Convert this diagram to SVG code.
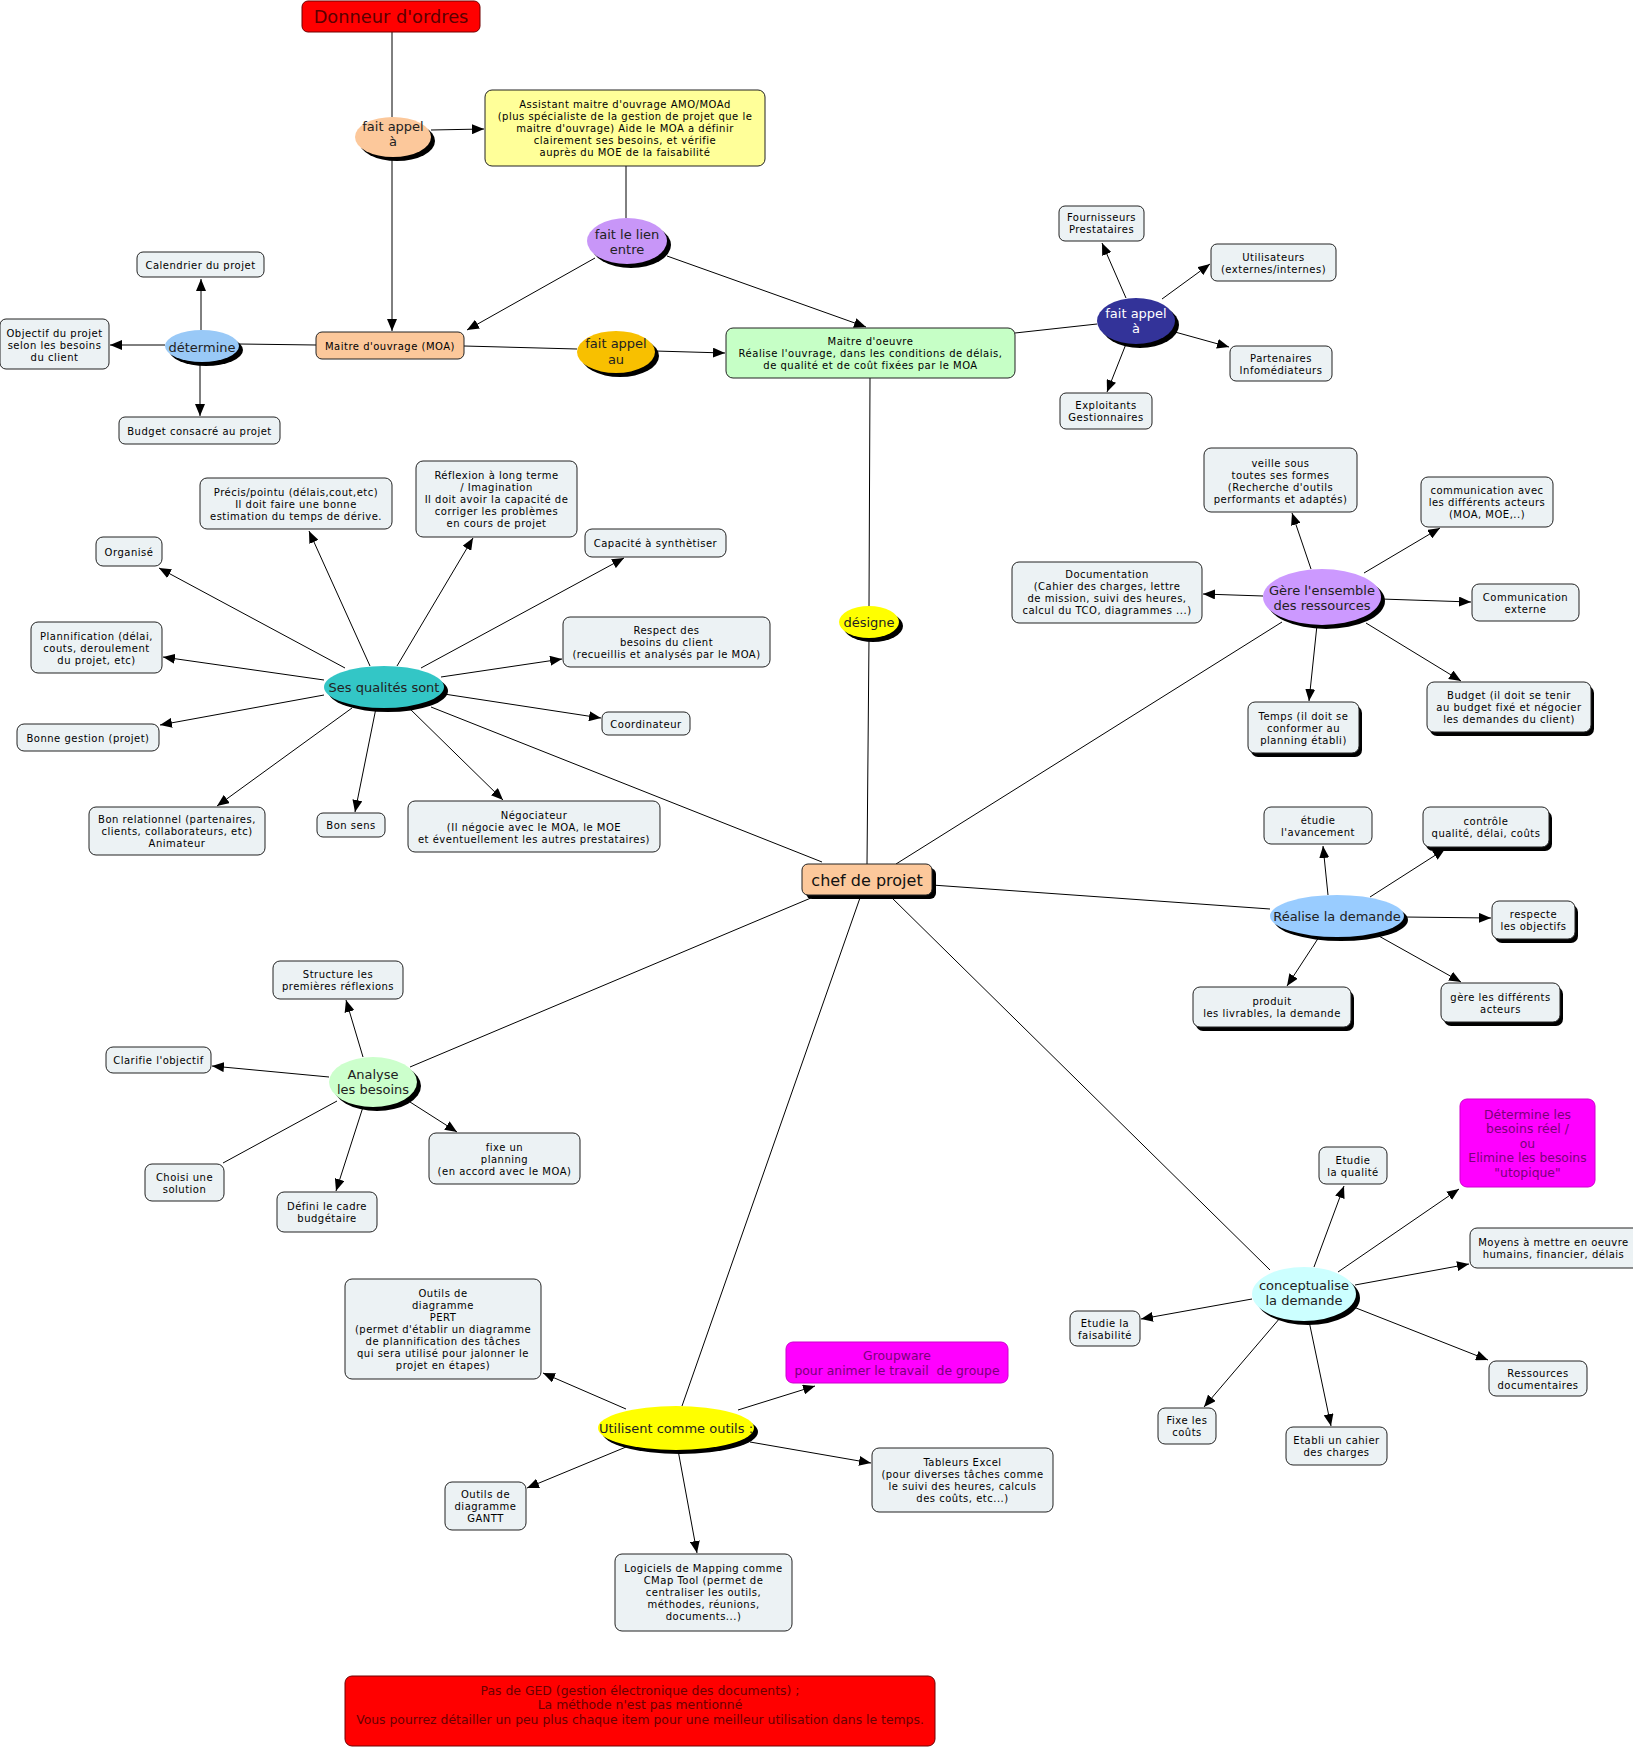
<svg xmlns="http://www.w3.org/2000/svg" width="1633" height="1749" viewBox="0 0 1633 1749">
<defs>
<marker id="arr" viewBox="0 0 12 10" refX="12" refY="5" markerWidth="12" markerHeight="10" markerUnits="userSpaceOnUse" orient="auto"><path d="M0,0 L12,5 L0,10 z" fill="#000"/></marker>
</defs>
<style>
.bx{fill:#ecf2f4;stroke:#222;stroke-width:1}
.t{font-family:"DejaVu Sans",Verdana,sans-serif;font-size:10px;letter-spacing:0.5px;text-anchor:middle;fill:#000}
.et{font-family:"DejaVu Sans",Verdana,sans-serif;font-size:13px;text-anchor:middle;fill:#222}
.bt{font-family:"DejaVu Sans",Verdana,sans-serif;font-size:12.4px;text-anchor:middle}
.sh{fill:#000}
.c{stroke:#000;stroke-width:1;fill:none}
.a{marker-end:url(#arr)}
.mg{fill:#ff00ff;stroke:#cc00cc;stroke-width:1}
.mgt{fill:#7a007a}
</style>
<rect width="1633" height="1749" fill="#fff"/>
<g id="connectors">
<line class="c" x1="392" y1="32" x2="392" y2="117"/>
<line class="c a" x1="431" y1="130" x2="484" y2="129"/>
<line class="c a" x1="392" y1="157" x2="392" y2="331"/>
<line class="c" x1="626" y1="166" x2="626" y2="218"/>
<line class="c a" x1="595" y1="258" x2="467" y2="330"/>
<line class="c a" x1="667" y1="256" x2="866" y2="327"/>
<line class="c" x1="464" y1="346" x2="577" y2="349"/>
<line class="c a" x1="655" y1="351" x2="725" y2="353"/>
<line class="c" x1="316" y1="345" x2="239" y2="344"/>
<line class="c a" x1="201" y1="330" x2="201" y2="279"/>
<line class="c a" x1="165" y1="345" x2="110" y2="345"/>
<line class="c a" x1="200" y1="362" x2="200" y2="416"/>
<line class="c" x1="1015" y1="333" x2="1097" y2="324"/>
<line class="c a" x1="1126" y1="298" x2="1102" y2="243"/>
<line class="c a" x1="1162" y1="299" x2="1210" y2="264"/>
<line class="c a" x1="1175" y1="332" x2="1229" y2="347"/>
<line class="c a" x1="1126" y1="344" x2="1107" y2="392"/>
<line class="c" x1="870" y1="378" x2="869" y2="606" stroke="#555"/>
<line class="c" x1="869" y1="638" x2="867" y2="864"/>
<line class="c" x1="822" y1="862" x2="431" y2="707"/>
<line class="c a" x1="370" y1="666" x2="309" y2="531"/>
<line class="c a" x1="397" y1="666" x2="473" y2="538"/>
<line class="c a" x1="345" y1="668" x2="159" y2="568"/>
<line class="c a" x1="324" y1="680" x2="163" y2="657"/>
<line class="c a" x1="324" y1="695" x2="160" y2="725"/>
<line class="c a" x1="352" y1="708" x2="217" y2="806"/>
<line class="c a" x1="376" y1="708" x2="355" y2="812"/>
<line class="c a" x1="408" y1="707" x2="503" y2="800"/>
<line class="c a" x1="421" y1="668" x2="624" y2="558"/>
<line class="c a" x1="441" y1="677" x2="562" y2="659"/>
<line class="c a" x1="444" y1="694" x2="601" y2="718"/>
<line class="c" x1="896" y1="864" x2="1282" y2="622"/>
<line class="c a" x1="1263" y1="596" x2="1203" y2="594"/>
<line class="c a" x1="1311" y1="569" x2="1292" y2="513"/>
<line class="c a" x1="1364" y1="573" x2="1440" y2="528"/>
<line class="c a" x1="1381" y1="599" x2="1471" y2="602"/>
<line class="c a" x1="1366" y1="623" x2="1461" y2="681"/>
<line class="c a" x1="1317" y1="625" x2="1309" y2="701"/>
<line class="c" x1="932" y1="885" x2="1270" y2="909"/>
<line class="c a" x1="1328" y1="895" x2="1323" y2="846"/>
<line class="c a" x1="1370" y1="897" x2="1445" y2="849"/>
<line class="c a" x1="1404" y1="917" x2="1491" y2="918"/>
<line class="c a" x1="1319" y1="937" x2="1287" y2="986"/>
<line class="c a" x1="1377" y1="935" x2="1461" y2="982"/>
<line class="c" x1="889" y1="895" x2="1270" y2="1270"/>
<line class="c a" x1="1314" y1="1267" x2="1344" y2="1186"/>
<line class="c a" x1="1338" y1="1272" x2="1459" y2="1189"/>
<line class="c a" x1="1355" y1="1285" x2="1469" y2="1264"/>
<line class="c a" x1="1252" y1="1299" x2="1141" y2="1319"/>
<line class="c a" x1="1280" y1="1318" x2="1204" y2="1407"/>
<line class="c a" x1="1309" y1="1321" x2="1331" y2="1426"/>
<line class="c a" x1="1351" y1="1306" x2="1488" y2="1360"/>
<line class="c" x1="818" y1="895" x2="410" y2="1067"/>
<line class="c a" x1="363" y1="1057" x2="346" y2="1000"/>
<line class="c a" x1="329" y1="1077" x2="212" y2="1066"/>
<line class="c" x1="337" y1="1101" x2="223" y2="1163"/>
<line class="c a" x1="363" y1="1107" x2="336" y2="1191"/>
<line class="c a" x1="410" y1="1102" x2="457" y2="1132"/>
<line class="c" x1="861" y1="895" x2="682" y2="1406"/>
<line class="c a" x1="626" y1="1409" x2="543" y2="1373"/>
<line class="c a" x1="738" y1="1410" x2="815" y2="1386"/>
<line class="c a" x1="750" y1="1442" x2="871" y2="1463"/>
<line class="c a" x1="678" y1="1450" x2="697" y2="1553"/>
<line class="c a" x1="626" y1="1447" x2="527" y2="1488"/>
</g>
<g id="donneur"><rect x="302" y="1" width="178" height="31" rx="6" fill="#ff0000" stroke="#700000"/><text class="bt" x="391" y="23" style="font-size:17.8px;fill:#5a0000">Donneur d'ordres</text></g>
<g id="fait-appel-a"><ellipse cx="397" cy="141" rx="38" ry="20" class="sh"/><ellipse cx="393" cy="137" rx="38" ry="20" fill="#fcc89b"/><text class="et" x="393" y="130.5">fait appel<tspan x="393" y="145.5">à</tspan></text></g>
<g id="amo"><rect class="bx" x="485" y="90" width="280" height="76" rx="7" style="fill:#ffff99"/><text class="t" x="625" y="108">Assistant maitre d'ouvrage AMO/MOAd<tspan x="625" y="120">(plus spécialiste de la gestion de projet que le</tspan><tspan x="625" y="132">maitre d'ouvrage) Aide le MOA a définir</tspan><tspan x="625" y="144">clairement ses besoins, et vérifie</tspan><tspan x="625" y="156">auprès du MOE de la faisabilité</tspan></text></g>
<g id="fait-le-lien"><ellipse cx="631" cy="245" rx="40" ry="23" class="sh"/><ellipse cx="627" cy="241" rx="40" ry="23" fill="#c896f8"/><text class="et" x="627" y="239">fait le lien<tspan x="627" y="254">entre</tspan></text></g>
<g id="moa"><rect class="bx" x="316" y="332" width="148" height="27" rx="6" style="fill:#fcc89b"/><text class="t" x="390" y="349.5">Maitre d'ouvrage (MOA)</text></g>
<g id="fait-appel-au"><ellipse cx="620" cy="356" rx="39" ry="21" class="sh"/><ellipse cx="616" cy="352" rx="39" ry="21" fill="#f8c000"/><text class="et" x="616" y="348">fait appel<tspan x="616" y="363.5">au</tspan></text></g>
<g id="moe"><rect class="bx" x="726" y="328" width="289" height="50" rx="7" style="fill:#c6ffc6"/><text class="t" x="870.5" y="345">Maitre d'oeuvre<tspan x="870.5" y="357">Réalise l'ouvrage, dans les conditions de délais,</tspan><tspan x="870.5" y="369">de qualité et de coût fixées par le MOA</tspan></text></g>
<g id="determine"><ellipse cx="206" cy="350" rx="37" ry="16" class="sh"/><ellipse cx="202" cy="346" rx="37" ry="16" fill="#99c9f7"/><text class="et" x="202" y="351.5">détermine</text></g>
<g id="calendrier"><rect class="bx" x="137" y="252" width="127" height="25" rx="6"/><text class="t" x="200.5" y="268.5">Calendrier du projet</text></g>
<g id="objectif"><rect class="bx" x="0" y="319" width="109" height="50" rx="6"/><text class="t" x="54.5" y="337">Objectif du projet<tspan x="54.5" y="349">selon les besoins</tspan><tspan x="54.5" y="361">du client</tspan></text></g>
<g id="budget-projet"><rect class="bx" x="119" y="417" width="161" height="27" rx="6"/><text class="t" x="199.5" y="434.5">Budget consacré au projet</text></g>
<g id="fait-appel-a2"><ellipse cx="1140" cy="325" rx="39" ry="23" class="sh"/><ellipse cx="1136" cy="321" rx="39" ry="23" fill="#333399"/><text class="et" x="1136" y="318" style="fill:#fff">fait appel<tspan x="1136" y="333">à</tspan></text></g>
<g id="fournisseurs"><rect class="bx" x="1059" y="206" width="85" height="35" rx="6"/><text class="t" x="1101.5" y="221">Fournisseurs<tspan x="1101.5" y="233">Prestataires</tspan></text></g>
<g id="utilisateurs"><rect class="bx" x="1211" y="244" width="125" height="37" rx="6"/><text class="t" x="1273.5" y="260.5">Utilisateurs<tspan x="1273.5" y="272.5">(externes/internes)</tspan></text></g>
<g id="partenaires"><rect class="bx" x="1230" y="346" width="102" height="35" rx="6"/><text class="t" x="1281" y="361.5">Partenaires<tspan x="1281" y="373.5">Infomédiateurs</tspan></text></g>
<g id="exploitants"><rect class="bx" x="1060" y="393" width="92" height="36" rx="6"/><text class="t" x="1106" y="409">Exploitants<tspan x="1106" y="421">Gestionnaires</tspan></text></g>
<g id="designe"><ellipse cx="873" cy="626" rx="30" ry="16" class="sh"/><ellipse cx="869" cy="622" rx="30" ry="16" fill="#ffff00"/><text class="et" x="869" y="626.5">désigne</text></g>
<g id="qualites"><ellipse cx="388" cy="691" rx="60" ry="21" class="sh"/><ellipse cx="384" cy="687" rx="60" ry="21" fill="#33c6c6"/><text class="et" x="384" y="691.5">Ses qualités sont</text></g>
<g id="precis"><rect class="bx" x="200" y="478" width="192" height="51" rx="7"/><text class="t" x="296" y="496">Précis/pointu (délais,cout,etc)<tspan x="296" y="508">Il doit faire une bonne</tspan><tspan x="296" y="520">estimation du temps de dérive.</tspan></text></g>
<g id="reflexion"><rect class="bx" x="416" y="461" width="161" height="76" rx="7"/><text class="t" x="496.5" y="478.5">Réflexion à long terme<tspan x="496.5" y="490.5">/ Imagination</tspan><tspan x="496.5" y="502.5">Il doit avoir la capacité de</tspan><tspan x="496.5" y="514.5">corriger les problèmes</tspan><tspan x="496.5" y="526.5">en cours de projet</tspan></text></g>
<g id="organise"><rect class="bx" x="96" y="537" width="66" height="29" rx="7"/><text class="t" x="129" y="555.5">Organisé</text></g>
<g id="plannification"><rect class="bx" x="31" y="622" width="131" height="51" rx="7"/><text class="t" x="96.5" y="639.5">Plannification (délai,<tspan x="96.5" y="651.5">couts, deroulement</tspan><tspan x="96.5" y="663.5">du projet, etc)</tspan></text></g>
<g id="bonne-gestion"><rect class="bx" x="17" y="724" width="142" height="27" rx="7"/><text class="t" x="88" y="741.5">Bonne gestion (projet)</text></g>
<g id="bon-relationnel"><rect class="bx" x="89" y="807" width="176" height="48" rx="7"/><text class="t" x="177" y="823">Bon relationnel (partenaires,<tspan x="177" y="835">clients, collaborateurs, etc)</tspan><tspan x="177" y="847">Animateur</tspan></text></g>
<g id="bon-sens"><rect class="bx" x="317" y="813" width="68" height="24" rx="6"/><text class="t" x="351" y="829">Bon sens</text></g>
<g id="negociateur"><rect class="bx" x="408" y="801" width="252" height="51" rx="7"/><text class="t" x="534" y="818.5">Négociateur<tspan x="534" y="830.5">(Il négocie avec le MOA, le MOE</tspan><tspan x="534" y="842.5">et éventuellement les autres prestataires)</tspan></text></g>
<g id="capacite"><rect class="bx" x="585" y="529" width="141" height="28" rx="7"/><text class="t" x="655.5" y="547">Capacité à synthètiser</text></g>
<g id="respect"><rect class="bx" x="563" y="617" width="207" height="50" rx="7"/><text class="t" x="666.5" y="634">Respect des<tspan x="666.5" y="646">besoins du client</tspan><tspan x="666.5" y="658">(recueillis et analysés par le MOA)</tspan></text></g>
<g id="coordinateur"><rect class="bx" x="602" y="712" width="88" height="23" rx="6"/><text class="t" x="646" y="727.5">Coordinateur</text></g>
<g id="chef"><rect class="sh" x="806" y="868" width="130" height="31" rx="6"/><rect class="bx" x="802" y="864" width="130" height="31" rx="6" style="fill:#fcc89b"/><text class="bt" x="867" y="885.5" style="font-size:16px;fill:#111">chef de projet</text></g>
<g id="gere"><ellipse cx="1326" cy="601" rx="59" ry="28" class="sh"/><ellipse cx="1322" cy="597" rx="59" ry="28" fill="#cc99ff"/><text class="et" x="1322" y="595">Gère l'ensemble<tspan x="1322" y="610">des ressources</tspan></text></g>
<g id="documentation"><rect class="bx" x="1012" y="562" width="190" height="61" rx="7"/><text class="t" x="1107" y="577.5">Documentation<tspan x="1107" y="589.5">(Cahier des charges, lettre</tspan><tspan x="1107" y="601.5">de mission, suivi des heures,</tspan><tspan x="1107" y="613.5">calcul du TCO, diagrammes ...)</tspan></text></g>
<g id="veille"><rect class="bx" x="1204" y="448" width="153" height="64" rx="7"/><text class="t" x="1280.5" y="467">veille sous<tspan x="1280.5" y="479">toutes ses formes</tspan><tspan x="1280.5" y="491">(Recherche d'outils</tspan><tspan x="1280.5" y="503">performants et adaptés)</tspan></text></g>
<g id="comm-avec"><rect class="bx" x="1421" y="477" width="132" height="50" rx="7"/><text class="t" x="1487" y="493.5">communication avec<tspan x="1487" y="505.5">les différents acteurs</tspan><tspan x="1487" y="517.5">(MOA, MOE,..)</tspan></text></g>
<g id="comm-ext"><rect class="bx" x="1472" y="584" width="107" height="37" rx="7"/><text class="t" x="1525.5" y="600.5">Communication<tspan x="1525.5" y="612.5">externe</tspan></text></g>
<g id="budget-ress"><rect class="sh" x="1430" y="686" width="164" height="50" rx="7"/><rect class="bx" x="1427" y="682" width="164" height="50" rx="7"/><text class="t" x="1509" y="699">Budget (il doit se tenir<tspan x="1509" y="711">au budget fixé et négocier</tspan><tspan x="1509" y="723">les demandes du client)</tspan></text></g>
<g id="temps"><rect class="sh" x="1251" y="706" width="111" height="51" rx="7"/><rect class="bx" x="1248" y="702" width="111" height="51" rx="7"/><text class="t" x="1303.5" y="719.5">Temps (il doit se<tspan x="1303.5" y="731.5">conformer au</tspan><tspan x="1303.5" y="743.5">planning établi)</tspan></text></g>
<g id="realise"><ellipse cx="1341" cy="920" rx="67" ry="21" class="sh"/><ellipse cx="1337" cy="916" rx="67" ry="21" fill="#99ccff"/><text class="et" x="1337" y="920.5">Réalise la demande</text></g>
<g id="etudie-av"><rect class="bx" x="1264" y="807" width="108" height="37" rx="7"/><text class="t" x="1318" y="823.5">étudie<tspan x="1318" y="835.5">l'avancement</tspan></text></g>
<g id="controle"><rect class="sh" x="1426" y="811" width="126" height="40" rx="7"/><rect class="bx" x="1423" y="807" width="126" height="40" rx="7"/><text class="t" x="1486" y="825">contrôle<tspan x="1486" y="837">qualité, délai, coûts</tspan></text></g>
<g id="respecte"><rect class="sh" x="1495" y="905" width="83" height="38" rx="7"/><rect class="bx" x="1492" y="901" width="83" height="38" rx="7"/><text class="t" x="1533.5" y="918">respecte<tspan x="1533.5" y="930">les objectifs</tspan></text></g>
<g id="produit"><rect class="sh" x="1196" y="991" width="158" height="40" rx="7"/><rect class="bx" x="1193" y="987" width="158" height="40" rx="7"/><text class="t" x="1272" y="1005">produit<tspan x="1272" y="1017">les livrables, la demande</tspan></text></g>
<g id="gere-diff"><rect class="sh" x="1444" y="987" width="119" height="39" rx="7"/><rect class="bx" x="1441" y="983" width="119" height="39" rx="7"/><text class="t" x="1500.5" y="1000.5">gère les différents<tspan x="1500.5" y="1012.5">acteurs</tspan></text></g>
<g id="conceptualise"><ellipse cx="1308" cy="1298" rx="52" ry="27" class="sh"/><ellipse cx="1304" cy="1294" rx="52" ry="27" fill="#ccffff"/><text class="et" x="1304" y="1289.5">conceptualise<tspan x="1304" y="1304.5">la demande</tspan></text></g>
<g id="etudie-qual"><rect class="bx" x="1319" y="1147" width="68" height="37" rx="7"/><text class="t" x="1353" y="1163.5">Etudie<tspan x="1353" y="1175.5">la qualité</tspan></text></g>
<g id="determine-besoins"><rect class="mg" x="1460" y="1099" width="135" height="88" rx="7"/><text class="bt mgt" x="1527.5" y="1118.5">Détermine les<tspan x="1527.5" y="1133">besoins réel /</tspan><tspan x="1527.5" y="1147.5">ou</tspan><tspan x="1527.5" y="1162">Elimine les besoins</tspan><tspan x="1527.5" y="1176.5">"utopique"</tspan></text></g>
<g id="moyens"><rect class="bx" x="1470" y="1228" width="175" height="40" rx="7"/><text class="t" x="1553.5" y="1246">Moyens à mettre en oeuvre<tspan x="1553.5" y="1258">humains, financier, délais</tspan></text></g>
<g id="etudie-fais"><rect class="bx" x="1070" y="1311" width="70" height="35" rx="7"/><text class="t" x="1105" y="1326.5">Etudie la<tspan x="1105" y="1338.5">faisabilité</tspan></text></g>
<g id="fixe-couts"><rect class="bx" x="1158" y="1408" width="58" height="36" rx="7"/><text class="t" x="1187" y="1424">Fixe les<tspan x="1187" y="1436">coûts</tspan></text></g>
<g id="etabli"><rect class="bx" x="1286" y="1427" width="101" height="38" rx="7"/><text class="t" x="1336.5" y="1444">Etabli un cahier<tspan x="1336.5" y="1456">des charges</tspan></text></g>
<g id="ressources"><rect class="bx" x="1489" y="1361" width="98" height="35" rx="7"/><text class="t" x="1538" y="1376.5">Ressources<tspan x="1538" y="1388.5">documentaires</tspan></text></g>
<g id="analyse"><ellipse cx="377" cy="1086" rx="44" ry="25" class="sh"/><ellipse cx="373" cy="1082" rx="44" ry="25" fill="#ccffcc"/><text class="et" x="373" y="1079">Analyse<tspan x="373" y="1093.5">les besoins</tspan></text></g>
<g id="structure"><rect class="bx" x="273" y="961" width="130" height="38" rx="7"/><text class="t" x="338" y="978">Structure les<tspan x="338" y="990">premières réflexions</tspan></text></g>
<g id="clarifie"><rect class="bx" x="106" y="1047" width="105" height="26" rx="7"/><text class="t" x="158.5" y="1064">Clarifie l'objectif</text></g>
<g id="choisi"><rect class="bx" x="145" y="1164" width="79" height="37" rx="7"/><text class="t" x="184.5" y="1180.5">Choisi une<tspan x="184.5" y="1192.5">solution</tspan></text></g>
<g id="defini"><rect class="bx" x="277" y="1192" width="100" height="40" rx="7"/><text class="t" x="327" y="1210">Défini le cadre<tspan x="327" y="1222">budgétaire</tspan></text></g>
<g id="fixe-planning"><rect class="bx" x="429" y="1133" width="151" height="51" rx="7"/><text class="t" x="504.5" y="1150.5">fixe un<tspan x="504.5" y="1162.5">planning</tspan><tspan x="504.5" y="1174.5">(en accord avec le MOA)</tspan></text></g>
<g id="utilisent"><ellipse cx="680" cy="1432" rx="78" ry="22" class="sh"/><ellipse cx="676" cy="1428" rx="78" ry="22" fill="#ffff00"/><text class="et" x="676" y="1432.5">Utilisent comme outils :</text></g>
<g id="pert"><rect class="bx" x="345" y="1279" width="196" height="100" rx="7"/><text class="t" x="443" y="1296.5">Outils de<tspan x="443" y="1308.5">diagramme</tspan><tspan x="443" y="1320.5">PERT</tspan><tspan x="443" y="1332.5">(permet d'établir un diagramme</tspan><tspan x="443" y="1344.5">de plannification des tâches</tspan><tspan x="443" y="1356.5">qui sera utilisé pour jalonner le</tspan><tspan x="443" y="1368.5">projet en étapes)</tspan></text></g>
<g id="gantt"><rect class="bx" x="445" y="1482" width="81" height="48" rx="7"/><text class="t" x="485.5" y="1498">Outils de<tspan x="485.5" y="1510">diagramme</tspan><tspan x="485.5" y="1522">GANTT</tspan></text></g>
<g id="groupware"><rect class="mg" x="786" y="1342" width="222" height="41" rx="7"/><text class="bt mgt" x="897" y="1360">Groupware<tspan x="897" y="1374.5">pour animer le travail&#160; de groupe</tspan></text></g>
<g id="tableurs"><rect class="bx" x="872" y="1448" width="181" height="64" rx="7"/><text class="t" x="962.5" y="1466">Tableurs Excel<tspan x="962.5" y="1478">(pour diverses tâches comme</tspan><tspan x="962.5" y="1490">le suivi des heures, calculs</tspan><tspan x="962.5" y="1502">des coûts, etc...)</tspan></text></g>
<g id="logiciels"><rect class="bx" x="615" y="1554" width="177" height="77" rx="7"/><text class="t" x="703.5" y="1572">Logiciels de Mapping comme<tspan x="703.5" y="1584">CMap Tool (permet de</tspan><tspan x="703.5" y="1596">centraliser les outils,</tspan><tspan x="703.5" y="1608">méthodes, réunions,</tspan><tspan x="703.5" y="1620">documents...)</tspan></text></g>
<g id="note"><rect x="345" y="1676" width="590" height="70" rx="7" fill="#ff0000" stroke="#700000"/><text class="bt" x="640" y="1694.5" style="fill:#6a0000">Pas de GED (gestion électronique des documents) ;<tspan x="640" y="1709">La méthode n'est pas mentionné</tspan><tspan x="640" y="1723.5">Vous pourrez détailler un peu plus chaque item pour une meilleur utilisation dans le temps.</tspan></text></g>
</svg>
